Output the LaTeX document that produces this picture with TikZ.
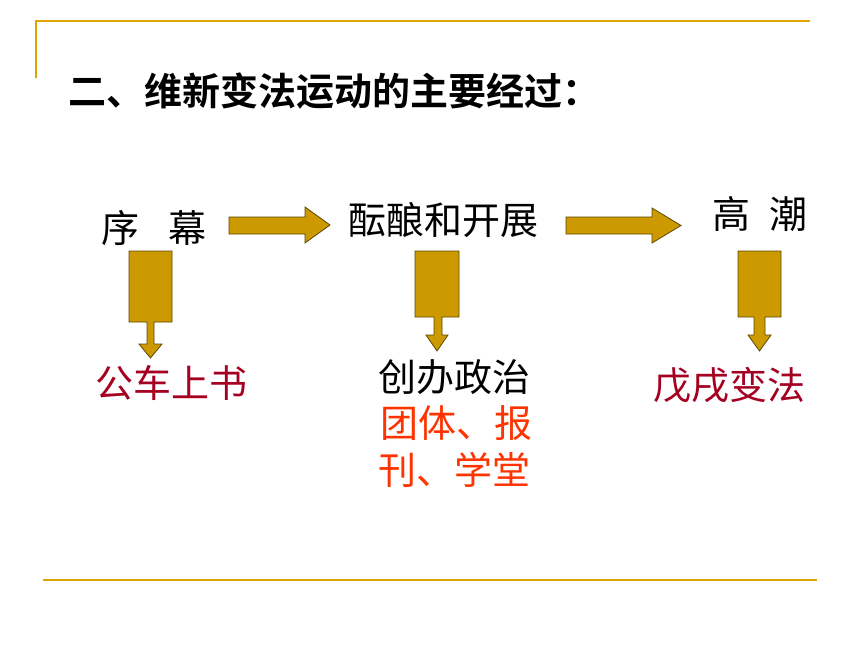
\documentclass[tikz,border=0pt]{standalone}
\usepackage{fontspec}
\newfontfamily\cjk{Noto Sans CJK SC}[BoldFont=Noto Sans CJK SC Bold]
\definecolor{goldline}{RGB}{222,166,0}
\definecolor{arrowfill}{RGB}{204,153,0}
\definecolor{arrowedge}{RGB}{90,72,0}
\definecolor{darkred}{RGB}{165,0,33}
\definecolor{orangered}{RGB}{255,51,0}
\begin{document}
\begin{tikzpicture}[x=1pt, y=-1pt,
  gold rule/.style={draw=goldline, line width=2pt},
  block arrow/.style={fill=arrowfill, draw=arrowedge, line width=0.8pt, line join=miter},
  main text/.style={anchor=west, inner sep=0pt, text height=33.4pt, text depth=4.6pt, font=\cjk\fontsize{38}{40}\selectfont}]%
\useasboundingbox (0,0) rectangle (860,645);
% frame rules
\draw[gold rule] (35.5,78) -- (35.5,21.3) -- (810,21.3);
\draw[gold rule] (43,580) -- (817,580);
% texts
\begin{scope}[every node/.style={main text}]
\node[font=\cjk\bfseries\fontsize{38}{40}\selectfont] (title) at (68,91) {二、维新变法运动的主要经过：};
\node (xumu) at (101.5,228) {序\hspace{0.75em}幕};
\node (yunniang) at (348.5,220) {酝酿和开展};
\node (gaochao) at (712.5,214) {高\hspace{0.5em}潮};
\node[text=darkred] (gongche) at (95,383) {公车上书};
\node (chuangban) at (378.5,377) {创办政治};
\node[text=orangered] (tuanti) at (380,423) {团体、报};
\node[text=orangered] (kan) at (378.5,470) {刊、学堂};
\node[text=darkred] (wuxu) at (653.5,385) {戊戌变法};
%\node (x) at (,) {};
\end{scope}
% right arrows
\begin{scope}[every path/.style={block arrow}]
\path (229,217) -- (305,217) -- (305,207) -- (330,225) -- (305,243) -- (305,234) -- (229,234) -- cycle;
\path (566,217) -- (652,217) -- (652,208) -- (681,225.5) -- (652,243) -- (652,234) -- (566,234) -- cycle;
% down arrows
\path (129,251) -- (172,251) -- (172,322) -- (154,322) -- (154,344) -- (162,344) -- (150.5,358) -- (139,344) -- (147,344) -- (147,322) -- (129,322) -- cycle;
\path (415,251) -- (459,251) -- (459,317) -- (442,317) -- (442,335) -- (448,335) -- (437,351) -- (426,335) -- (434,335) -- (434,317) -- (415,317) -- cycle;
\path (738,251) -- (781,251) -- (781,317) -- (765,317) -- (765,335) -- (771,335) -- (759.5,351) -- (748,335) -- (754,335) -- (754,317) -- (738,317) -- cycle;
\end{scope}
\end{tikzpicture}
\end{document}
